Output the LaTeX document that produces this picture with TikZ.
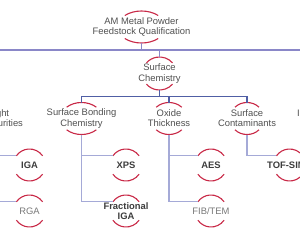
\documentclass[tikz,border=0pt]{standalone}
\usepackage{fontspec}
\setsansfont{Liberation Sans}
\usetikzlibrary{positioning}
\definecolor{arccol}{RGB}{200,40,70}
\definecolor{txtgray}{RGB}{80,80,80}
\definecolor{txtdark}{RGB}{60,60,60}
\definecolor{txtlight}{RGB}{120,120,120}
\definecolor{lineA}{RGB}{138,135,200}
\definecolor{lineB}{RGB}{80,95,165}
\definecolor{lineC}{RGB}{165,170,215}

\begin{document}
\begin{tikzpicture}[
  on grid,
  lvl/.style={align=center, inner sep=0pt, text=txtgray, font=\sffamily\fontsize{9.4}{10.2}\selectfont},
  tech/.style={lvl, text=txtdark, font=\sffamily\bfseries\fontsize{9.4}{10.2}\selectfont},
  techlight/.style={lvl, text=txtlight},
  ring/.style={draw=arccol, line width=1.1pt},
  linkA/.style={draw=lineA, line width=1.1pt},
  linkB/.style={draw=lineB, line width=1.1pt},
  linkC/.style={draw=lineC, line width=1.1pt}
]
\useasboundingbox (0,0) rectangle (300pt,-231pt);

\node[lvl] (top) at (141.5pt,-27pt) {AM Metal Powder\\Feedstock Qualification};
\node[lvl, below right=46.5pt and 18pt of top] (sc) {Surface\\Chemistry};
\node[lvl, below left=45pt and 78pt of sc] (sbc) {Surface Bonding\\Chemistry};
\node[lvl, below right=45pt and 9.5pt of sc] (ox) {Oxide\\Thickness};
\node[lvl, below right=45pt and 87.5pt of sc] (scont) {Surface\\Contaminants};
\node[lvl, anchor=east] (imp) at (25pt,-118.5pt) {ght\hspace*{15.7pt}\\urities};
\node[lvl, anchor=base west] (nxt) at (296.8pt,-116.5pt) {I};
\node[tech, below left=46.5pt and 52pt of sbc] (iga) {IGA};
\node[techlight, below=46pt of iga] (rga) {RGA};
\node[tech, below right=46.5pt and 44.5pt of sbc] (xps) {XPS};
\node[tech, below=46pt of xps] (figa) {Fractional\\IGA};
\node[tech, below right=46.5pt and 42pt of ox] (aes) {AES};
\node[techlight, below=46pt of aes] (fib) {FIB/TEM};
\node[tech, below right=46.5pt and 42.6pt of scont] (tof) {TOF-SIMS};

% red caps above and below each label
\foreach \n/\a/\b/\t in {top/24/16/46, sc/17/16.5/40, sbc/21/16/45, ox/18/16/45, scont/17/16/45,
    iga/16/16/35, rga/16/16/35, xps/16/16/35, figa/16/16/35, aes/16/16/35, fib/16/16/35, tof/16/16/35} {
  \draw[ring] ([shift={(\t:\a pt and \b pt)}]\n.center) arc[start angle=\t, end angle=180-\t, x radius=\a pt, y radius=\b pt];
  \draw[ring] ([shift={(-\t:\a pt and \b pt)}]\n.center) arc[start angle=-\t, end angle=-180+\t, x radius=\a pt, y radius=\b pt];
  \coordinate (\n-t) at ([yshift=\b pt]\n.center);
  \coordinate (\n-b) at ([yshift=-\b pt]\n.center);
  \coordinate (\n-w) at ([shift={(180-\t:\a pt and \b pt)}]\n.center);
}

\coordinate (busL) at (0,-50pt);
\coordinate (busR) at (300pt,-50pt);
\coordinate (bus2) at ([yshift=22pt]sbc.center);
\coordinate (lft) at (0,0);

\draw[linkA] (busL) -- (busR);
\draw[linkA] (top-b) -- (top-b |- busL);
\draw[linkA] (sc.center |- busL) -- (sc-t);

\draw[linkB] (sc-b) -- (sc.center |- bus2);
\draw[linkB] (sbc-t) |- (scont.center |- bus2) -- (scont-t);
\draw[linkB] (ox.center |- bus2) -- (ox-t);

\draw[linkC] (lft |- iga-w) -- (iga-w);
\draw[linkC] (lft |- rga-w) -- (rga-w);
\draw[linkC] (sbc-b) |- (xps-w);
\draw[linkC] (sbc-b) |- (figa-w);
\draw[linkC] (ox-b) |- (aes-w);
\draw[linkC] (ox-b) |- (fib-w);
\draw[linkC] (scont-b) |- (tof-w);
\end{tikzpicture}
\end{document}
